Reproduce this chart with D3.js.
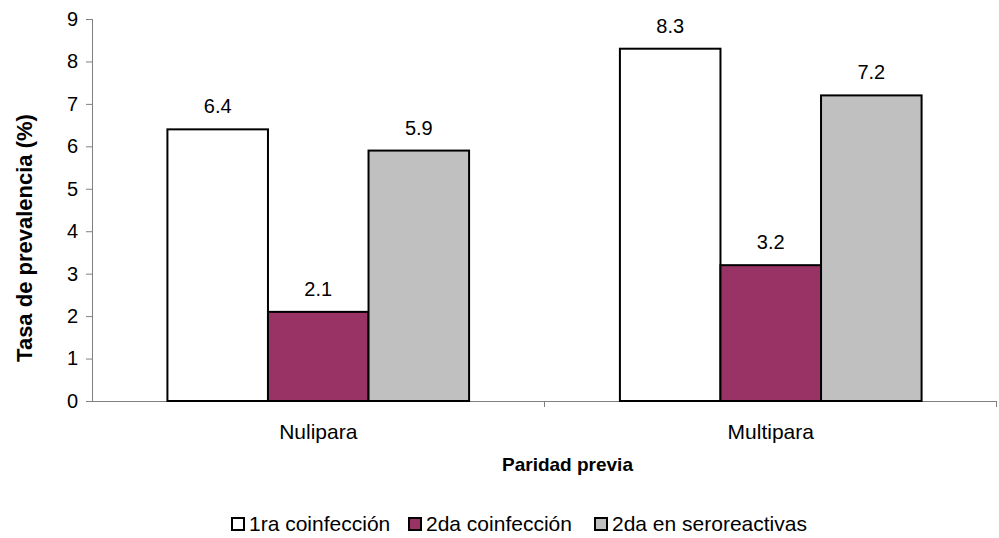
<!DOCTYPE html>
<html>
<head>
<meta charset="utf-8">
<script src="https://cdn.jsdelivr.net/npm/d3@7"></script>
<style>
    body { margin: 0; background: #fff; }
    text { font-family: Arial, "Liberation Sans", sans-serif; fill: #000; }
    .axis path, .axis line { stroke: #808080; }
    .axis text { font-size: 20px; }
    .axisLabel { font-weight: bold; }
</style>
</head>
<body>
<script>
    const categories = ["Nulipara", "Multipara"];
    const series = ["1ra coinfección", "2da coinfección", "2da en seroreactivas"];
    const values = {
        "1ra coinfección": [6.4, 8.3],
        "2da coinfección": [2.1, 3.2],
        "2da en seroreactivas": [5.9, 7.2]
    };
    const colors = ["#ffffff", "#993366", "#c0c0c0"];
    const yTicks = [0, 1, 2, 3, 4, 5, 6, 7, 8, 9];

    const w = 999, h = 538;
    const margin = {top: 19, right: 2, bottom: 137, left: 92};

    const svg = d3.select("body")
        .append("svg")
        .attr("width", w)
        .attr("height", h);

    let y = d3.scaleLinear()
        .domain([0, 9])
        .range([h - margin.bottom, margin.top]);

    let x0 = d3.scaleBand()
        .domain(categories)
        .range([margin.left, w - margin.right]);

    let bw = x0.bandwidth();
    let x1 = d3.scaleBand()
        .domain(series)
        .range([bw / 6, bw * 5 / 6]);

    let color = d3.scaleOrdinal().domain(series).range(colors);

    // y axis
    svg.append("g")
        .attr("class", "axis")
        .attr("transform", `translate(${margin.left},0)`)
        .call(d3.axisLeft(y).tickValues(yTicks).tickSize(6).tickSizeOuter(0).tickPadding(8))
        .call(g => g.select(".domain").attr("d", `M0.5,${y(9)}V${y(0)}`));

    // x axis, ticks on the band edges
    let xa = svg.append("g")
        .attr("class", "axis")
        .attr("transform", `translate(0,${y(0)})`);
    xa.append("line")
        .attr("x1", margin.left).attr("x2", w - margin.right)
        .attr("y1", 0.5).attr("y2", 0.5);
    let edges = categories.map(c => x0(c)).concat([x0(categories[categories.length - 1]) + bw]);
    xa.selectAll(".edge")
        .data(edges.slice(1))
        .enter().append("line")
        .attr("x1", d => Math.round(d) - 0.5).attr("x2", d => Math.round(d) - 0.5)
        .attr("y1", 0).attr("y2", 6);
    xa.selectAll(".cat")
        .data(categories)
        .enter().append("text")
        .attr("x", d => x0(d) + bw / 2)
        .attr("y", 38)
        .attr("text-anchor", "middle")
        .style("font-size", "21px")
        .text(d => d);

    // bars
    let groups = svg.append("g")
        .selectAll("g")
        .data(categories)
        .enter().append("g")
        .attr("transform", d => `translate(${x0(d)},0)`);

    groups.selectAll("rect")
        .data((c, ci) => series.map(s => ({s: s, v: values[s][ci]})))
        .enter().append("rect")
        .attr("x", d => x1(d.s))
        .attr("y", d => y(d.v))
        .attr("width", x1.bandwidth())
        .attr("height", d => y(0) - y(d.v))
        .attr("fill", d => color(d.s))
        .attr("stroke", "#000")
        .attr("stroke-width", 2);

    groups.selectAll(".val")
        .data((c, ci) => series.map(s => ({s: s, v: values[s][ci]})))
        .enter().append("text")
        .attr("x", d => x1(d.s) + x1.bandwidth() / 2)
        .attr("y", d => y(d.v) - 16)
        .attr("text-anchor", "middle")
        .style("font-size", "20px")
        .text(d => d.v.toFixed(1));

    // axis titles
    svg.append("text")
        .attr("class", "axisLabel")
        .attr("transform", `translate(32,238) rotate(-90)`)
        .attr("text-anchor", "middle")
        .style("font-size", "22px")
        .text("Tasa de prevalencia (%)");

    svg.append("text")
        .attr("class", "axisLabel")
        .attr("x", (margin.left + w - margin.right) / 2 + 23)
        .attr("y", 471)
        .attr("text-anchor", "middle")
        .style("font-size", "19px")
        .text("Paridad previa");

    // legend
    const legendX = [232, 409, 595];
    let legend = svg.append("g")
        .selectAll("g")
        .data(series)
        .enter().append("g")
        .attr("transform", (d, i) => `translate(${legendX[i]},518)`);
    legend.append("rect")
        .attr("width", 12).attr("height", 12)
        .attr("fill", d => color(d))
        .attr("stroke", "#000")
        .attr("stroke-width", 2);
    legend.append("text")
        .attr("x", 17)
        .attr("y", 13)
        .style("font-size", "21px")
        .text(d => d);
</script>
</body>
</html>
